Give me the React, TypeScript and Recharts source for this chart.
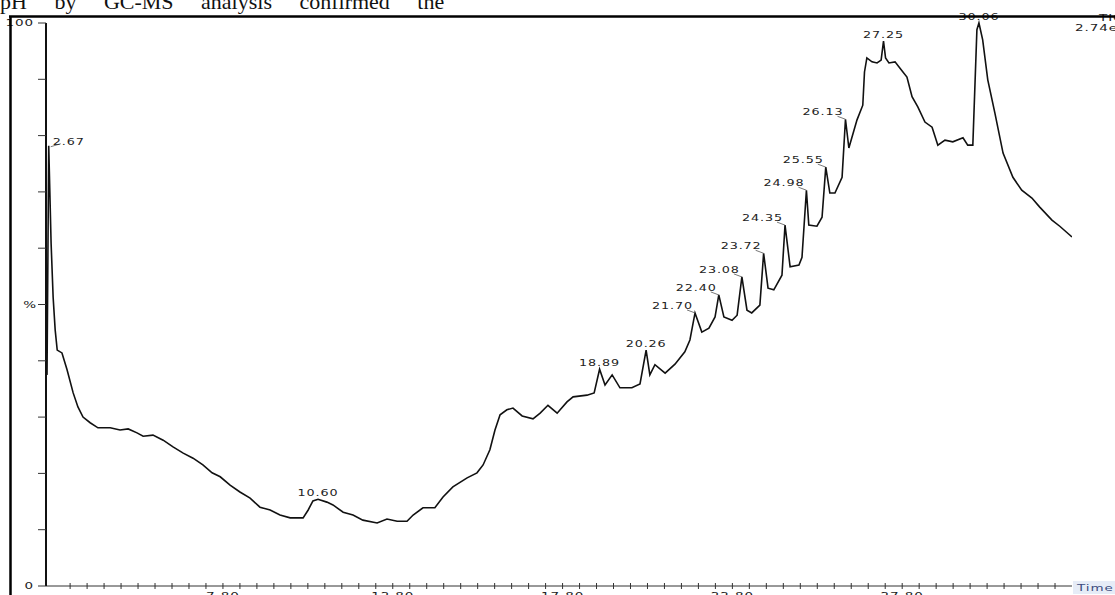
import React from "react";
import { LineChart, Line, XAxis, YAxis, LabelList } from "recharts";

// Retention time (min) of each traced point
const times = [
  2.62, 2.67, 2.74, 2.8, 2.86, 2.92, 3.06, 3.21, 3.39, 3.53, 3.68, 3.89, 4.12, 4.48, 4.77, 5.01,
  5.27, 5.45, 5.74, 6.04, 6.33, 6.63, 6.92, 7.21, 7.48, 7.72, 8.01, 8.3, 8.6, 8.89, 9.19, 9.48,
  9.78, 10.16, 10.31, 10.45, 10.6, 10.86, 11.04, 11.34, 11.63, 11.92, 12.34, 12.63, 12.93, 13.22,
  13.4, 13.69, 14.04, 14.28, 14.57, 14.99, 15.28, 15.46, 15.66, 15.81, 15.96, 16.16, 16.34, 16.61,
  16.93, 17.14, 17.37, 17.64, 17.93, 18.11, 18.52, 18.73, 18.89, 19.05, 19.26, 19.49, 19.84, 20.08,
  20.26, 20.37, 20.52, 20.82, 21.11, 21.4, 21.55, 21.7, 21.9, 22.11, 22.29, 22.4, 22.55, 22.79,
  22.94, 23.08, 23.23, 23.37, 23.61, 23.72, 23.85, 24.02, 24.26, 24.35, 24.5, 24.76, 24.85, 24.98,
  25.05, 25.29, 25.44, 25.55, 25.67, 25.82, 26.03, 26.13, 26.23, 26.47, 26.64, 26.69, 26.76, 26.91,
  27.06, 27.18, 27.25, 27.31, 27.41, 27.59, 27.73, 27.94, 28.09, 28.26, 28.47, 28.68, 28.85, 29.06,
  29.29, 29.59, 29.73, 29.88, 30.0, 30.06, 30.17, 30.32, 30.53, 30.77, 31.06, 31.32, 31.62, 31.85,
  32.21, 32.44, 32.8,
];

// Relative abundance (%) at each time
const abundance = [
  37.5, 78.2, 60.9, 51.3, 45.5, 41.9, 41.4, 38.4, 34.3, 31.8, 30.0, 29.0, 28.1, 28.1, 27.7, 27.9,
  27.2, 26.6, 26.8, 25.9, 24.7, 23.6, 22.7, 21.5, 20.1, 19.4, 17.9, 16.7, 15.6, 14.0, 13.5, 12.6,
  12.1, 12.1, 13.5, 15.1, 15.4, 14.9, 14.4, 13.1, 12.6, 11.7, 11.2, 11.9, 11.5, 11.5,
  12.6, 13.9, 13.9, 15.8, 17.6, 19.2, 20.1, 21.5, 24.2, 27.7, 30.4, 31.3, 31.6, 30.2,
  29.7, 30.7, 32.1, 30.7, 32.7, 33.6, 33.9, 34.3, 38.5, 35.7, 37.5, 35.2, 35.2, 35.9,
  41.9, 37.5, 39.3, 37.8, 39.4, 41.6, 43.7, 48.5, 45.1, 45.8, 47.8, 51.7, 47.8, 47.2,
  48.1, 54.9, 49.0, 48.5, 49.9, 59.1, 52.9, 52.6, 55.2, 64.1, 56.7, 57.0, 58.4, 70.3,
  64.1, 63.9, 65.5, 74.4, 69.8, 69.8, 72.6, 82.9, 77.8, 82.8, 85.4, 91.3, 93.8, 93.1,
  92.9, 93.4, 96.8, 93.8, 92.9, 93.1, 92.0, 90.4, 86.9, 85.1, 82.4, 81.5, 78.3, 79.2,
  78.9, 79.6, 78.3, 78.3, 98.8, 100, 97.0, 89.9, 84.0, 76.9, 72.6, 70.3, 68.9, 67.3,
  65.0, 63.9, 62.0,
];

// Labelled peaks
const peakTimes = [2.67, 10.6, 18.89, 20.26, 21.7, 22.4, 23.08, 23.72, 24.35, 24.98, 25.55, 26.13, 27.25, 30.06];
const peakTexts = ["2.67", "10.60", "18.89", "20.26", "21.70", "22.40", "23.08", "23.72", "24.35", "24.98", "25.55", "26.13", "27.25", "30.06"];

// Axis ticks
const majorTicks = [7.8, 12.8, 17.8, 22.8, 27.8];
const majorTickLabels = ["7.80", "12.80", "17.80", "22.80", "27.80"];
const yTicks = [0, 10, 20, 30, 40, 50, 60, 70, 80, 90, 100];
const yTickLabels: Record<number, string> = { 0: "0", 50: "%", 100: "100" };

const xTicks: number[] = [];
for (let k = 0; k <= 58; k++) xTicks.push(Math.round((3.3 + k * 0.5) * 100) / 100);

const data = times.map((t, i) => {
  const pi = peakTimes.findIndex((p) => Math.abs(p - t) < 1e-6);
  return { t, v: abundance[i], label: pi >= 0 ? peakTexts[pi] : undefined };
});

// label placement style (not data)
const rightAligned = new Set(["21.70", "22.40", "23.08", "23.72", "24.35", "24.98", "25.55", "26.13"]);
const leftAligned = new Set(["2.67"]);

const FONT = "'DejaVu Sans', sans-serif";
const SX = 1.5;

const WideText = ({ x, y, anchor, children, fill = "#222", size = 8.5 }: any) => (
  <g transform={`translate(${x},${y}) scale(${SX},1)`}>
    <text x={0} y={0} textAnchor={anchor} fontFamily={FONT} fontSize={size} fill={fill} letterSpacing={0.6}>
      {children}
    </text>
  </g>
);

const XTick = (props: any) => {
  const { x, y, payload } = props;
  const v = payload.value;
  const mi = majorTicks.findIndex((m) => Math.abs(m - v) < 1e-6);
  return (
    <g>
      <line x1={x} x2={x} y1={y - 3} y2={y + 3} stroke="#333" strokeWidth={1} />
      {mi >= 0 && (
        <WideText x={x} y={y + 13} anchor="middle" size={9}>
          {majorTickLabels[mi]}
        </WideText>
      )}
    </g>
  );
};

const YTick = (props: any) => {
  const { x, y, payload } = props;
  const lbl = yTickLabels[payload.value];
  return (
    <g>
      <line x1={x - 8} x2={x} y1={y} y2={y} stroke="#333" strokeWidth={1} />
      {lbl !== undefined && (
        <WideText x={lbl === "100" ? x - 12 : lbl === "%" ? x - 9 : x - 12} y={y + 3} anchor="end" size={9}>
          {lbl}
        </WideText>
      )}
    </g>
  );
};

const PeakLabel = (props: any) => {
  const { x, y, value } = props;
  if (!value) return null;
  if (leftAligned.has(value)) {
    return (
      <g>
        <line x1={x + 2} y1={y + 1} x2={x + 12} y2={y - 2} stroke="#555" strokeWidth={0.8} />
        <WideText x={x + 4} y={y - 1} anchor="start">{value}</WideText>
      </g>
    );
  }
  if (rightAligned.has(value)) {
    return (
      <g>
        <line x1={x - 8} y1={y - 3} x2={x} y2={y} stroke="#555" strokeWidth={0.8} />
        <WideText x={x - 2} y={y - 4} anchor="end">{value}</WideText>
      </g>
    );
  }
  return <WideText x={x} y={y - 3} anchor="middle">{value}</WideText>;
};

export default function App() {
  return (
    <div style={{ position: "absolute", left: 0, top: 0, width: 1115, height: 595, overflow: "hidden", background: "#fff" }}>
      <LineChart width={1115} height={595} data={data} margin={{ top: 23, right: 43, bottom: 8, left: 45 }}>
        <XAxis
          type="number"
          dataKey="t"
          domain={[2.59, 32.8]}
          ticks={xTicks}
          interval={0}
          tick={<XTick />}
          tickLine={false}
          tickSize={0}
          tickMargin={0}
          height={1}
          axisLine={{ stroke: "#333", strokeWidth: 1 }}
          allowDataOverflow
        />
        <YAxis
          type="number"
          domain={[0, 100]}
          ticks={yTicks}
          interval={0}
          tick={<YTick />}
          tickLine={false}
          tickSize={0}
          tickMargin={0}
          width={1}
          axisLine={{ stroke: "#111", strokeWidth: 2 }}
        />
        <Line type="linear" dataKey="v" stroke="#111" strokeWidth={1.6} dot={false} isAnimationActive={false}>
          <LabelList dataKey="label" content={<PeakLabel />} />
        </Line>
      </LineChart>
      <svg width={1115} height={595} style={{ position: "absolute", left: 0, top: 0, pointerEvents: "none" }}>
        <text x={0} y={9} fontFamily="'Liberation Serif', serif" fontSize={22} fill="#111" wordSpacing={22}>
          pH by GC-MS analysis confirmed the
        </text>
        <rect x={1073} y={581} width={44} height={13} fill="#e6ecf7" />
        <WideText x={1077} y={591} anchor="start" fill="#3c4c80" size={9}>Time</WideText>
        <WideText x={1099} y={21} anchor="start" size={9}>TIC</WideText>
        <WideText x={1075} y={31} anchor="start" size={9}>2.74e8</WideText>
        <line x1={9} y1={16.5} x2={1115} y2={16.5} stroke="#000" strokeWidth={2.5} />
        <line x1={10.5} y1={16} x2={10.5} y2={595} stroke="#000" strokeWidth={2.5} />
      </svg>
    </div>
  );
}
